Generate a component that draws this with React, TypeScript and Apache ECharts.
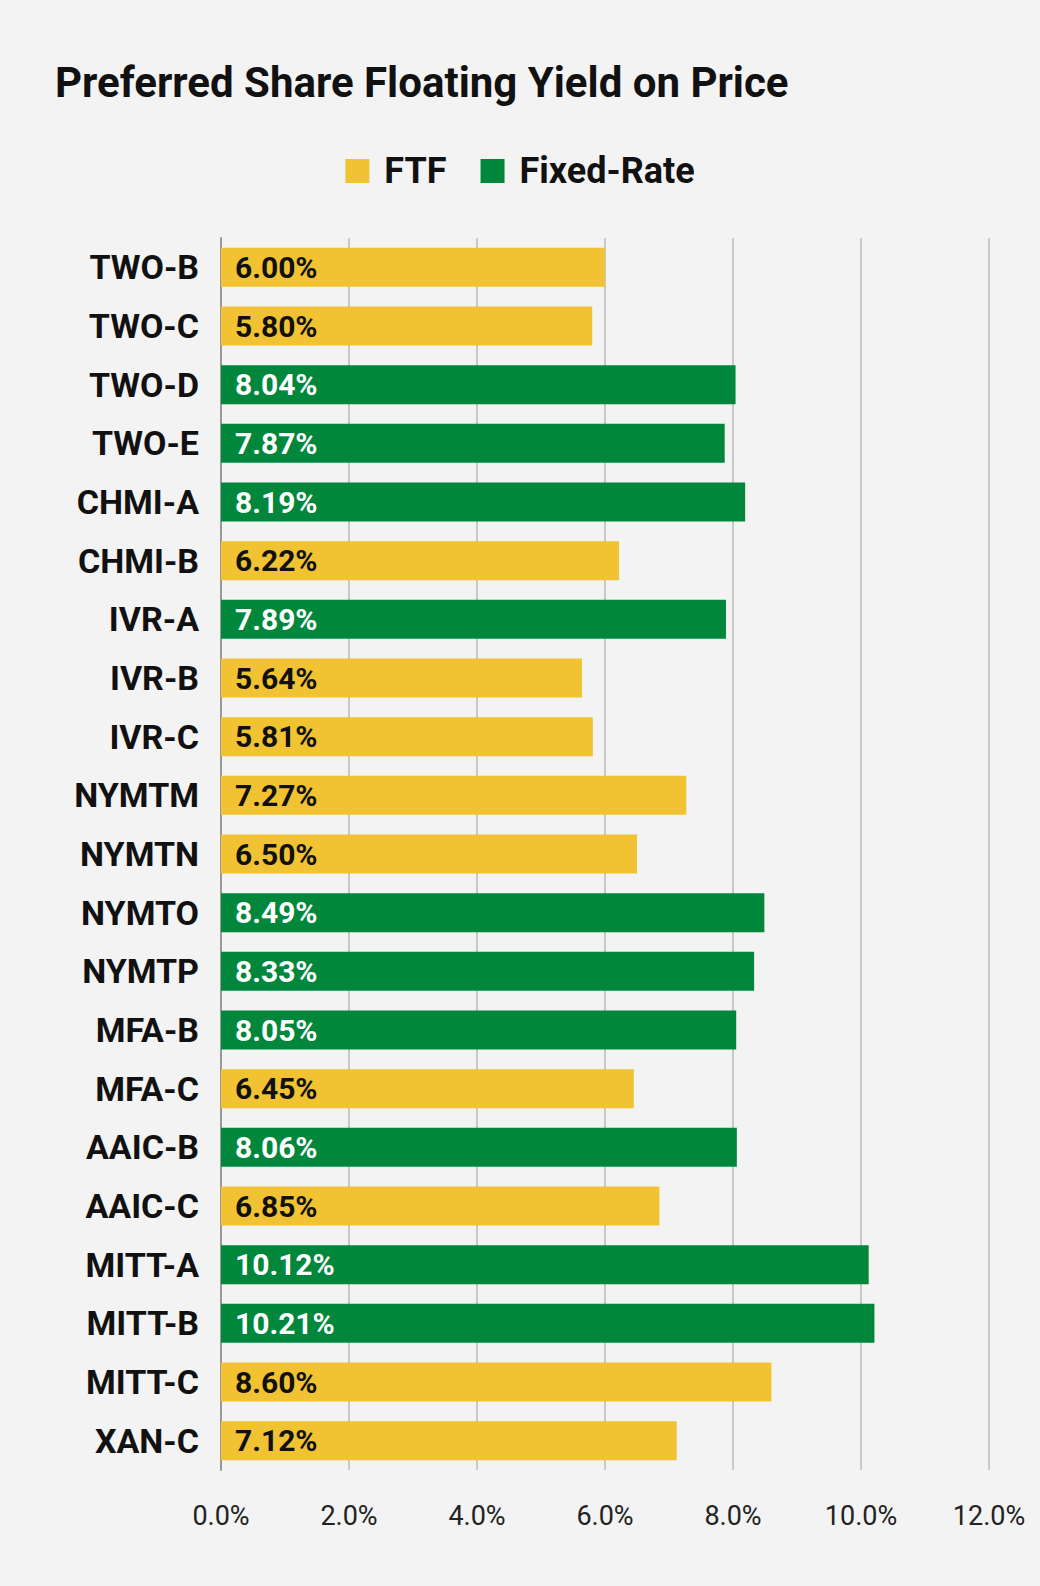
import React, { useEffect, useRef } from "react";
import * as echarts from "echarts";

const categories = ["TWO-B","TWO-C","TWO-D","TWO-E","CHMI-A","CHMI-B","IVR-A","IVR-B","IVR-C","NYMTM","NYMTN","NYMTO","NYMTP","MFA-B","MFA-C","AAIC-B","AAIC-C","MITT-A","MITT-B","MITT-C","XAN-C"];
const values = [6.00,5.80,8.04,7.87,8.19,6.22,7.89,5.64,5.81,7.27,6.50,8.49,8.33,8.05,6.45,8.06,6.85,10.12,10.21,8.60,7.12];
const types = ["F","F","X","X","X","F","X","F","F","F","F","X","X","X","F","X","F","X","X","F","F"];

export default function App() {
  const ref = useRef<HTMLDivElement>(null);
  useEffect(() => {
    document.body.style.margin = "0";
    document.body.style.background = "#f3f3f3";
    const chart = echarts.init(ref.current!, undefined, { renderer: "svg" });
    const ftf = values.map((v, i) => (types[i] === "F" ? v : null));
    const fix = values.map((v, i) => (types[i] === "X" ? v : null));
    const label = (color: string) => ({
      show: true, position: "insideLeft", distance: 14, color,
      fontSize: 30, fontWeight: "bold", fontFamily: "Roboto",
      formatter: (p: any) => p.value.toFixed(2) + "%",
    });
    chart.setOption({
      animation: false,
      backgroundColor: "#f3f3f3",
      title: { text: "Preferred Share Floating Yield on Price", left: 50, top: 56,
        textStyle: { fontSize: 42, fontWeight: "bold", color: "#111", fontFamily: "Roboto" } },
      legend: { top: 148, left: "center", itemWidth: 24, itemHeight: 24, itemGap: 34, icon: "rect",
        textStyle: { fontSize: 36, fontWeight: "bold", color: "#111", fontFamily: "Roboto", padding: [0, 0, 0, 10] } },
      grid: { left: 221, right: 51, top: 238, bottom: 116 },
      xAxis: { type: "value", min: 0, max: 12, interval: 2,
        axisLabel: { formatter: (v: number) => v.toFixed(1) + "%", fontSize: 27, color: "#222", margin: 32, fontFamily: "Roboto" },
        splitLine: { lineStyle: { color: "#c8c8c8", width: 2 } }, axisLine: { show: false } },
      yAxis: { type: "category", data: categories, inverse: true,
        axisTick: { show: false }, axisLine: { lineStyle: { color: "#999", width: 2 } },
        axisLabel: { fontSize: 34, fontWeight: "bold", color: "#111", margin: 22, fontFamily: "Roboto" } },
      series: [
        { name: "FTF", type: "bar", stack: "a", data: ftf, barWidth: 39, itemStyle: { color: "#f1c232" }, label: label("#111") },
        { name: "Fixed-Rate", type: "bar", stack: "a", data: fix, barWidth: 39, itemStyle: { color: "#00873c" }, label: label("#fff") },
      ],
    });
    return () => chart.dispose();
  }, []);
  return <div ref={ref} style={{ width: 1040, height: 1586 }} />;
}
